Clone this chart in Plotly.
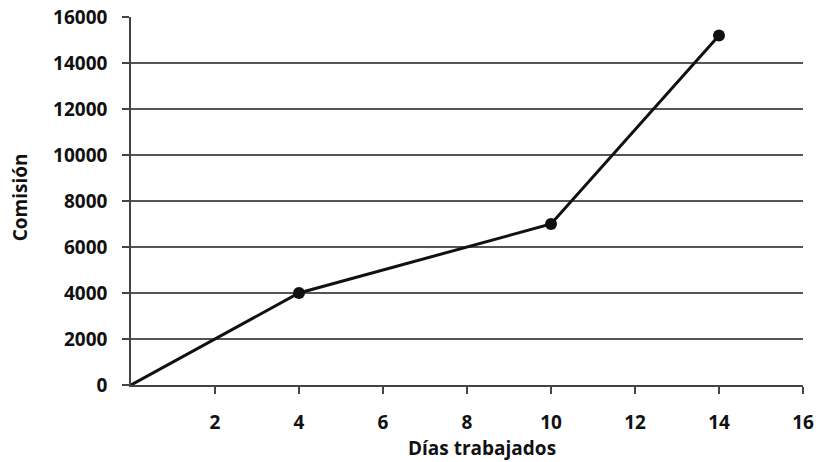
import plotly.graph_objects as go

# Commission earned versus days worked
dias = [0, 4, 10, 14]
comision = [0, 4000, 7000, 15200]
marcados = [False, True, True, True]

x_ticks = [2, 4, 6, 8, 10, 12, 14, 16]
y_ticks = [0, 2000, 4000, 6000, 8000, 10000, 12000, 14000, 16000]

font_family = "Open Sans, DejaVu Sans, sans-serif"
label_font = dict(family=font_family, size=19, color="#111111", weight="bold")

fig = go.Figure()

fig.add_trace(go.Scatter(
    x=dias,
    y=comision,
    mode="lines+markers",
    line=dict(color="#111111", width=3),
    marker=dict(
        color="#111111",
        size=[12 if m else 0 for m in marcados],
        opacity=1,
        line=dict(color="#111111", width=0),
    ),
    showlegend=False,
    hoverinfo="x+y",
))

fig.update_layout(
    width=816,
    height=462,
    margin=dict(l=131, r=13, t=17, b=77),
    paper_bgcolor="white",
    plot_bgcolor="white",
    font=dict(family=font_family, color="#111111", size=19),
    xaxis=dict(
        range=[0, 16],
        tickvals=x_ticks,
        ticktext=[str(v) for v in x_ticks],
        ticks="outside",
        ticklen=7,
        tickwidth=1.5,
        tickcolor="#444444",
        ticklabelstandoff=12,
        showgrid=False,
        zeroline=False,
        showline=True,
        linecolor="#444444",
        linewidth=1.5,
        tickfont=label_font,
        automargin=False,
        fixedrange=True,
    ),
    yaxis=dict(
        range=[0, 16000],
        tickvals=y_ticks,
        ticktext=[str(v) for v in y_ticks],
        ticks="outside",
        ticklen=7,
        tickwidth=1.5,
        tickcolor="#444444",
        ticklabelstandoff=11,
        showgrid=True,
        gridcolor="#555555",
        gridwidth=1.5,
        zeroline=False,
        showline=True,
        linecolor="#444444",
        linewidth=1.5,
        tickfont=label_font,
        automargin=False,
        fixedrange=True,
    ),
    annotations=[
        dict(
            text="Días trabajados",
            xref="paper", yref="paper",
            x=0.523, y=0, yshift=-63,
            xanchor="center", yanchor="middle",
            borderpad=0,
            showarrow=False,
            font=label_font,
        ),
        dict(
            text="Comisión",
            xref="paper", yref="paper",
            x=0, xshift=-111, y=0.51,
            xanchor="center", yanchor="middle",
            textangle=-90,
            showarrow=False,
            font=label_font,
        ),
    ],
)

fig.write_html("out.html")
